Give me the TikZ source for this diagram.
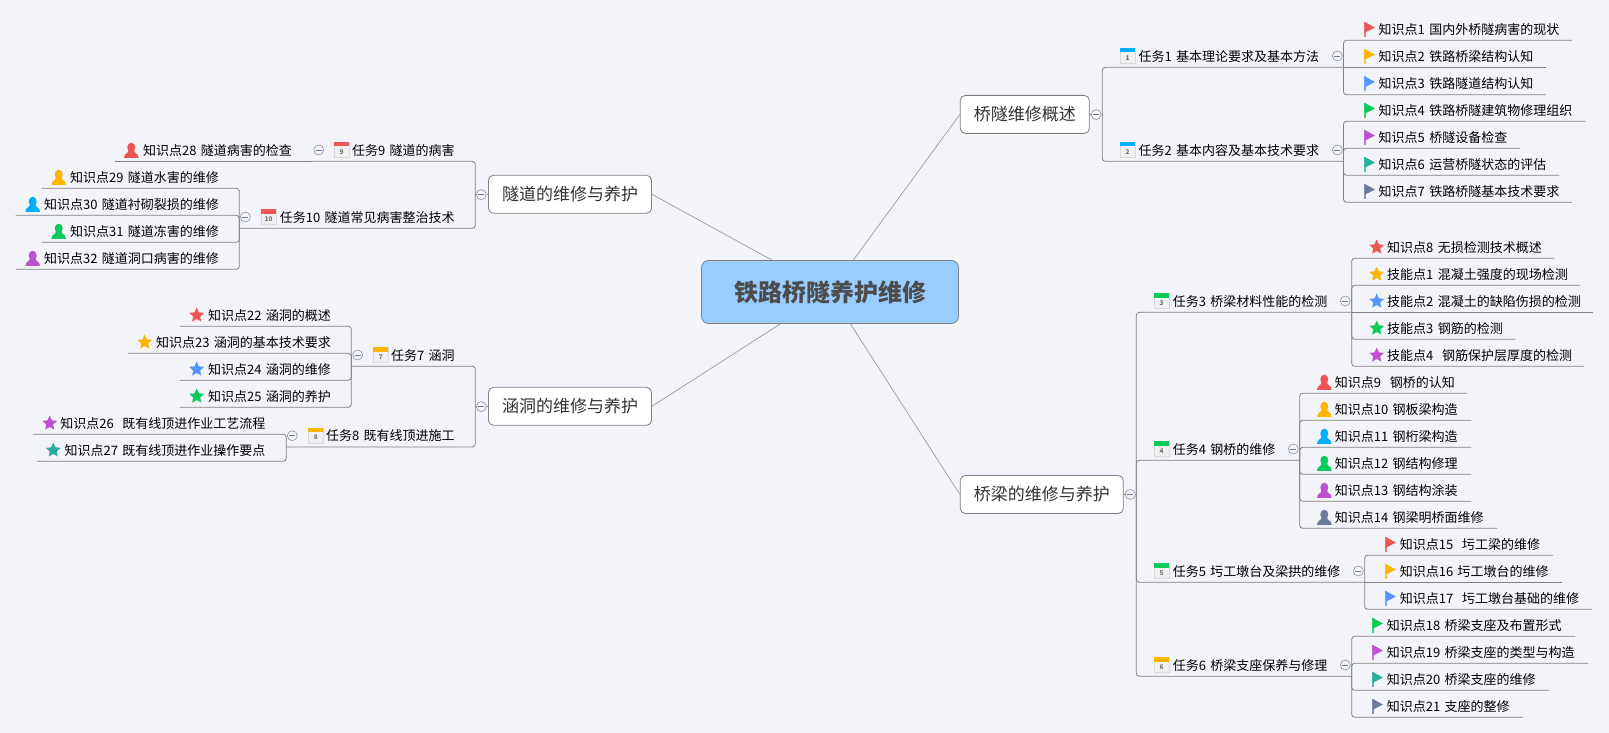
\documentclass[tikz,border=0pt]{standalone}
\usepackage{fontspec}
\setmainfont{Noto Sans CJK SC}
\usetikzlibrary{shapes.geometric}
\definecolor{bgcol}{HTML}{F3F4FA}
\definecolor{linecol}{HTML}{808080}
\definecolor{rootcol}{HTML}{99CCFF}
\definecolor{iconred}{HTML}{F05555}
\definecolor{iconorange}{HTML}{FFB400}
\definecolor{iconblue}{HTML}{5595FF}
\definecolor{icongreen}{HTML}{0ACB5A}
\definecolor{iconpurple}{HTML}{BC52CF}
\definecolor{iconteal}{HTML}{2AAE9B}
\definecolor{iconslate}{HTML}{6F7B9B}
\definecolor{iconcyan}{HTML}{00AEFF}
\tikzset{
	conn/.style={draw=linecol,line width=0.8pt,rounded corners=3pt},
	rootline/.style={draw=linecol!85,line width=0.6pt},
	rootbox/.style={draw=linecol,line width=0.8pt,fill=rootcol,rounded corners=7pt,minimum width=257pt,minimum height=63pt,text=black!70,font=\fontsize{24}{28}\selectfont\bfseries},
	topicbox/.style={draw=linecol,line width=0.8pt,fill=white,rounded corners=5pt,minimum height=38pt,text=black!80,font=\fontsize{17}{20}\selectfont},
	fold/.style={circle,draw=linecol!85,line width=0.6pt,fill=bgcol,minimum size=10pt,inner sep=0pt,path picture={\draw[iconslate,line width=0.8pt] ([xshift=2pt]path picture bounding box.west) -- ([xshift=-2pt]path picture bounding box.east);}},
	itemr/.style={anchor=south west,inner sep=0pt,minimum height=22pt,align=left,font=\fontsize{13}{16}\selectfont},
	iteml/.style={anchor=south east,inner sep=0pt,minimum height=22pt,align=right,font=\fontsize{13}{16}\selectfont},
	staricon/.style={star,star points=5,star point ratio=2.1,inner sep=0pt,minimum size=15.5pt},
	% points that sit level with their task
	flatk2/.style={rounded corners=0pt},
	flats2/.style={rounded corners=0pt},
	flatk16/.style={rounded corners=0pt},
	flatk28/.style={rounded corners=0pt}
}
% icons: name, x, y, colour
\newcommand{\flagic}[4]{
	\fill[#4!80] (#2-5.5,#3-7.5) rectangle (#2-3.3,#3+7.5);
	\fill[#4] (#2-5,#3-7.5) -- (#2+5.5,#3-1.7) -- (#2-5,#3+3.5) -- cycle;
}
\newcommand{\staric}[4]{
	\node[staricon,fill=#4] (#1-i) at (#2,#3) {};
}
\newcommand{\manic}[4]{
	\fill[#4] (#2,#3-2.8) ellipse (4 and 4.8);
	\fill[#4] (#2-7.2,#3+7.5) .. controls (#2-7.5,#3+3) and (#2-3,#3+3.5) .. (#2-2.5,#3) -- (#2+2.5,#3) .. controls (#2+3,#3+3.5) and (#2+7.5,#3+3) .. (#2+7.2,#3+7.5) -- cycle;
}
% calendar: name, left, top, colour, number
\newcommand{\calic}[5]{
	\fill[black!6] (#2,#3) rectangle (#2+15,#3+15);
	\draw[black!15,line width=0.4pt] (#2,#3) rectangle (#2+15,#3+15);
	\fill[#4] (#2,#3) rectangle (#2+15,#3+4.5);
	\node[inner sep=0pt,text=black!55,font=\fontsize{6.5}{7}\selectfont\bfseries] (#1-n) at (#2+7.5,#3+9.8) {#5};
}
\begin{document}
\begin{tikzpicture}[x=1pt,y=-1pt]
	\path[use as bounding box,fill=bgcol] (0,0) rectangle (1609,733);
	% root and topics
	\node[rootbox] (root) at (830,292) {铁路桥隧养护维修};
	\node[topicbox,minimum width=129pt] (over) at (1024.8,114.4) {桥隧维修概述};
	\node[topicbox,minimum width=163pt] (bridge) at (1041.8,494.5) {桥梁的维修与养护};
	\node[topicbox,minimum width=163pt] (tunnel) at (570,194.3) {隧道的维修与养护};
	\node[topicbox,minimum width=163pt] (culvert) at (570,406.3) {涵洞的维修与养护};
	\draw[rootline] (root) -- (over.west);
	\draw[rootline] (root) -- (bridge.west);
	\draw[rootline] (root) -- (tunnel.east);
	\draw[rootline] (root) -- (culvert.east);
	% folds beside the topics
	\foreach \nm/\fx/\fy/\jx/\src/\side in {over/1096.2/114.6/1102.3/over/east,bridge/1130.3/494.4/1136.3/bridge/east,tunnel/481.3/194.6/475.3/tunnel/west,culvert/481.3/406.6/475.3/culvert/west}{
		\node[fold] (f\nm) at (\fx,\fy) {};
		\coordinate (j\nm) at (\jx,\fy);
		\draw[conn] (\src.\side) -- (f\nm);
		\draw[conn] (f\nm) -- (j\nm);
	}
	% tasks on the right
	\foreach \nm/\up/\tx/\xb/\yy/\cx/\col/\num/\fx/\txt in {
		t1/jover/1138.4/1343.1/67.3/1120.1/iconcyan/1/1337.4/任务1 基本理论要求及基本方法,
		t2/jover/1138.4/1343.1/161.3/1120.1/iconcyan/2/1337.4/任务2 基本内容及基本技术要求,
		t3/jbridge/1172.7/1351.3/312.3/1154/icongreen/3/1345.3/任务3 桥梁材料性能的检测,
		t4/jbridge/1172.7/1299.3/460.3/1154/icongreen/4/1293.3/任务4 钢桥的维修,
		t5/jbridge/1172.7/1364.3/582.3/1154/icongreen/5/1358.3/任务5 圬工墩台及梁拱的维修,
		t6/jbridge/1172.7/1351.3/676.3/1154/iconorange/6/1345.3/任务6 桥梁支座保养与修理}{
		\pgfmathsetmacro{\nw}{\xb-\tx}
		\node[itemr,text width=\nw pt] (\nm) at (\tx,\yy) {\txt};
		\calic{\nm}{\cx}{\yy-19.3}{\col}{\num}
		\draw[conn] (\up) |- (\nm.south east);
		\node[fold] (f\nm) at (\fx,\yy-11.3) {};
	}
	% tasks on the left
	\foreach \nm/\up/\xa/\tx/\yy/\cx/\col/\num/\fx/\txt in {
		t9/jtunnel/312.3/454.8/161.3/334/iconred/9/318.7/任务9 隧道的病害,
		t10/jtunnel/239.7/454.8/228.3/261/iconred/10/245.3/任务10 隧道常见病害整治技术,
		t7/jculvert/351.7/454.8/366.3/373.3/iconorange/7/357.7/任务7 涵洞,
		t8/jculvert/286.7/454.8/447/308.3/iconorange/8/292.3/任务8 既有线顶进施工}{
		\pgfmathsetmacro{\nw}{\tx-\xa}
		\node[iteml,text width=\nw pt] (\nm) at (\tx,\yy) {\txt};
		\calic{\nm}{\cx}{\yy-19.3}{\col}{\num}
		\draw[conn] (\up) |- (\nm.south west);
		\node[fold] (f\nm) at (\fx,\yy-11.3) {};
	}
	% points on the right
	\foreach \nm/\up/\tx/\xb/\yy/\ix/\ic/\col/\txt in {
		k1/t1/1378.5/1571.5/40.3/1369.5/flagic/iconred/知识点1 国内外桥隧病害的现状,
		k2/t1/1378.5/1545.5/67.3/1369.5/flagic/iconorange/知识点2 铁路桥梁结构认知,
		k3/t1/1378.5/1545.5/94.7/1369.5/flagic/iconblue/知识点3 铁路隧道结构认知,
		k4/t2/1378.5/1585/121.3/1369.5/flagic/icongreen/知识点4 铁路桥隧建筑物修理组织,
		k5/t2/1378.5/1519.5/148.3/1369.5/flagic/iconpurple/知识点5 桥隧设备检查,
		k6/t2/1378.5/1559/175.3/1369.5/flagic/iconteal/知识点6 运营桥隧状态的评估,
		k7/t2/1378.5/1571.5/202.3/1369.5/flagic/iconslate/知识点7 铁路桥隧基本技术要求,
		k8/t3/1387/1554/258.3/1376.7/staric/iconred/知识点8 无损检测技术概述,
		s1/t3/1387/1580/285.3/1376.7/staric/iconorange/技能点1 混凝土强度的现场检测,
		s2/t3/1387/1593/312.3/1376.7/staric/iconblue/技能点2 混凝土的缺陷伤损的检测,
		s3/t3/1387/1515/339.3/1376.7/staric/icongreen/技能点3 钢筋的检测,
		s4/t3/1387/1584/366.3/1376.7/staric/iconpurple/技能点4~ 钢筋保护层厚度的检测,
		k9/t4/1334.7/1466.7/393.3/1324.3/manic/iconred/知识点9~ 钢桥的认知,
		k10/t4/1334.7/1471/420.3/1324.3/manic/iconorange/知识点10 钢板梁构造,
		k11/t4/1334.7/1471/447.3/1324.3/manic/iconcyan/知识点11 钢桁梁构造,
		k12/t4/1334.7/1471/474.3/1324.3/manic/icongreen/知识点12 钢结构修理,
		k13/t4/1334.7/1471/501.3/1324.3/manic/iconpurple/知识点13 钢结构涂装,
		k14/t4/1334.7/1496.7/528.3/1324.3/manic/iconslate/知识点14 钢梁明桥面维修,
		k15/t5/1399.7/1552.7/555.3/1390.5/flagic/iconred/知识点15~ 圬工梁的维修,
		k16/t5/1399.7/1561.7/582.3/1390.5/flagic/iconorange/知识点16 圬工墩台的维修,
		k17/t5/1399.7/1591.7/609.3/1390.5/flagic/iconblue/知识点17~ 圬工墩台基础的维修,
		k18/t6/1386.7/1575/636.3/1377.5/flagic/icongreen/知识点18 桥梁支座及布置形式,
		k19/t6/1386.7/1587.7/663.3/1377.5/flagic/iconpurple/知识点19 桥梁支座的类型与构造,
		k20/t6/1386.7/1548.7/690.3/1377.5/flagic/iconteal/知识点20 桥梁支座的维修,
		k21/t6/1386.7/1522.7/717.3/1377.5/flagic/iconslate/知识点21 支座的整修}{
		\pgfmathsetmacro{\nw}{\xb-\tx}
		\pgfmathsetmacro{\iy}{\yy-11}
		\node[itemr,text width=\nw pt] (\nm) at (\tx,\yy) {\txt};
		\csname\ic\endcsname{\nm}{\ix}{\iy}{\col}
		\draw[conn,flat\nm/.try] (\up.south east) |- (\nm.south east);
	}
	% points on the left
	\foreach \nm/\up/\xa/\tx/\yy/\ix/\ic/\col/\txt in {
		k28/t9/115/292/161.3/131.3/manic/iconred/知识点28 隧道病害的检查,
		k29/t10/42/219/188.3/58.7/manic/iconorange/知识点29 隧道水害的维修,
		k30/t10/16/219/215.3/32.7/manic/iconcyan/知识点30 隧道衬砌裂损的维修,
		k31/t10/42/219/242.3/58.7/manic/icongreen/知识点31 隧道冻害的维修,
		k32/t10/16/219/269.3/32.7/manic/iconpurple/知识点32 隧道洞口病害的维修,
		k22/t7/180/331/326.3/196.7/staric/iconred/知识点22 涵洞的概述,
		k23/t7/128.3/331/353.3/144.7/staric/iconorange/知识点23 涵洞的基本技术要求,
		k24/t7/180/331/380.3/196.7/staric/iconblue/知识点24 涵洞的维修,
		k25/t7/180/331/407.3/196.7/staric/icongreen/知识点25 涵洞的养护,
		k26/t8/33.3/265.7/434.3/49.7/staric/iconpurple/知识点26~ 既有线顶进作业工艺流程,
		k27/t8/37.3/265.7/461.3/53.3/staric/iconteal/知识点27 既有线顶进作业操作要点}{
		\pgfmathsetmacro{\nw}{\tx-\xa}
		\pgfmathsetmacro{\iy}{\yy-11}
		\node[iteml,text width=\nw pt] (\nm) at (\tx,\yy) {\txt};
		\csname\ic\endcsname{\nm}{\ix}{\iy}{\col}
		\draw[conn,flat\nm/.try] (\up.south west) |- (\nm.south west);
	}
\end{tikzpicture}
\end{document}
